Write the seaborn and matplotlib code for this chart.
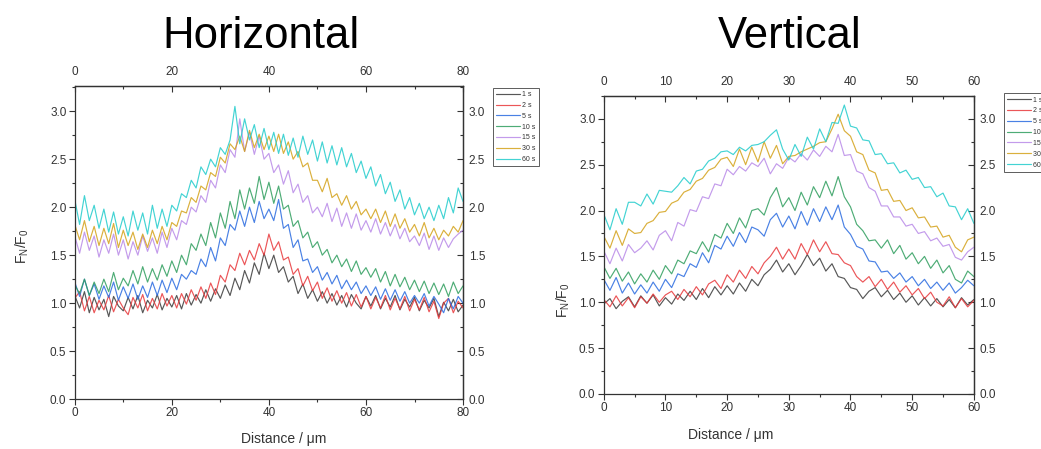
import numpy as np
import pandas as pd
import matplotlib
matplotlib.use("Agg")
import matplotlib.pyplot as plt
import seaborn as sns
from matplotlib.ticker import MultipleLocator

# ---------------- data ----------------
LABELS = ["1 s", "2 s", "5 s", "10 s", "15 s", "30 s", "60 s"]

H_X = list(range(0, 81))  # distance, um
H_1s = [1.08,0.95,1.12,0.90,1.06,0.93,1.04,0.86,1.07,0.97,
        0.92,1.06,0.94,1.08,0.90,1.03,0.95,1.09,0.93,1.05,
        0.96,1.08,0.94,1.10,0.98,1.09,1.00,1.14,1.02,1.15,
        1.05,1.19,1.08,1.26,1.14,1.34,1.21,1.42,1.30,1.52,
        1.36,1.50,1.32,1.38,1.22,1.28,1.10,1.20,1.05,1.14,
        1.02,1.12,1.00,1.10,0.98,1.08,0.96,1.09,1.00,0.94,
        1.07,0.97,1.08,0.94,1.05,0.96,1.08,0.93,1.04,0.96,
        1.06,0.92,1.03,0.95,1.05,0.86,1.01,0.92,1.04,0.91,
        0.98]
H_2s = [1.05,1.12,0.92,1.07,0.90,1.03,0.93,1.08,0.91,1.04,
        0.95,0.88,1.06,0.95,1.09,0.92,1.05,0.94,1.10,0.97,
        1.08,0.95,1.10,0.99,1.14,1.03,1.17,1.05,1.21,1.09,
        1.29,1.22,1.40,1.34,1.52,1.40,1.55,1.45,1.62,1.50,
        1.72,1.55,1.64,1.45,1.48,1.30,1.36,1.18,1.28,1.13,
        1.22,1.05,1.16,1.02,1.13,1.00,1.11,0.97,1.09,0.96,
        1.07,0.94,1.06,0.95,1.08,0.93,1.05,0.94,1.07,0.92,
        1.04,0.93,1.06,0.91,1.02,0.84,1.00,1.05,0.90,1.02,
        0.95]
H_5s = [1.22,1.07,1.25,1.08,1.20,1.04,1.18,1.06,1.22,1.03,
        1.17,1.05,1.20,1.04,1.18,1.06,1.22,1.08,1.24,1.11,
        1.26,1.14,1.30,1.25,1.34,1.30,1.46,1.38,1.58,1.44,
        1.68,1.60,1.82,1.76,1.96,1.80,2.00,1.84,2.06,1.88,
        1.98,1.86,2.08,1.78,1.82,1.58,1.66,1.44,1.46,1.32,
        1.38,1.24,1.32,1.20,1.29,1.15,1.24,1.14,1.22,1.10,
        1.18,1.08,1.17,1.04,1.15,1.03,1.14,1.02,1.12,1.00,
        1.08,1.00,1.10,0.97,1.07,0.99,0.90,1.05,0.94,1.07,
        1.00]
H_10s = [1.19,1.10,1.25,1.08,1.22,1.10,1.25,1.12,1.32,1.14,
         1.26,1.18,1.34,1.20,1.38,1.22,1.36,1.24,1.40,1.28,
         1.44,1.32,1.50,1.40,1.62,1.55,1.72,1.60,1.84,1.68,
         1.94,1.78,2.06,1.88,2.18,1.98,2.20,2.04,2.32,2.08,
         2.26,2.04,2.22,1.98,2.02,1.80,1.86,1.68,1.74,1.58,
         1.64,1.50,1.56,1.42,1.50,1.38,1.46,1.33,1.44,1.30,
         1.37,1.27,1.36,1.22,1.33,1.18,1.30,1.17,1.27,1.14,
         1.24,1.12,1.23,1.10,1.21,1.09,1.20,1.07,1.22,1.10,
         1.18]
H_15s = [1.70,1.52,1.74,1.55,1.70,1.48,1.66,1.52,1.72,1.50,
         1.66,1.46,1.64,1.50,1.70,1.54,1.68,1.52,1.74,1.58,
         1.78,1.66,1.86,1.82,2.00,1.95,2.12,2.05,2.28,2.20,
         2.44,2.36,2.60,2.52,2.92,2.58,2.78,2.55,2.74,2.50,
         2.56,2.36,2.44,2.24,2.38,2.15,2.24,2.05,2.12,1.94,
         2.00,1.90,2.04,1.85,1.99,1.80,1.94,1.78,1.93,1.76,
         1.86,1.74,1.88,1.72,1.84,1.70,1.82,1.67,1.78,1.64,
         1.70,1.60,1.73,1.56,1.70,1.55,1.68,1.58,1.67,1.72,
         1.76]
H_30s = [1.82,1.66,1.86,1.64,1.80,1.60,1.78,1.62,1.83,1.58,
         1.76,1.60,1.74,1.56,1.72,1.58,1.76,1.62,1.80,1.66,
         1.84,1.80,1.96,1.94,2.10,2.05,2.22,2.18,2.36,2.32,
         2.52,2.46,2.66,2.60,2.74,2.58,2.80,2.62,2.76,2.60,
         2.74,2.58,2.76,2.56,2.68,2.50,2.58,2.42,2.46,2.28,
         2.28,2.16,2.30,2.10,2.14,2.02,2.12,1.98,2.06,1.92,
         1.98,1.88,1.98,1.84,1.96,1.80,1.93,1.78,1.88,1.74,
         1.82,1.70,1.84,1.68,1.78,1.66,1.76,1.70,1.80,1.74,
         1.86]
H_60s = [2.08,1.82,2.12,1.86,2.02,1.78,1.98,1.74,1.95,1.72,
         1.90,1.70,1.96,1.76,1.94,1.72,2.02,1.78,1.98,1.80,
         2.02,1.96,2.14,2.10,2.28,2.20,2.42,2.34,2.50,2.42,
         2.62,2.55,2.70,3.05,2.66,2.92,2.70,2.86,2.62,2.82,
         2.60,2.78,2.56,2.76,2.54,2.72,2.52,2.74,2.55,2.70,
         2.48,2.68,2.46,2.64,2.44,2.62,2.42,2.56,2.36,2.48,
         2.30,2.42,2.22,2.34,2.14,2.26,2.06,2.18,1.98,2.10,
         1.92,2.04,1.88,2.00,1.86,2.02,1.88,2.10,1.94,2.20,
         2.06]

V_X = list(range(0, 61))  # distance, um
V_1s = [0.98,1.04,0.93,1.01,1.06,0.95,1.07,0.99,1.08,0.96,
        1.05,0.98,1.09,1.02,1.12,1.03,1.15,1.05,1.17,1.08,
        1.18,1.09,1.21,1.12,1.25,1.18,1.30,1.36,1.46,1.33,
        1.42,1.30,1.40,1.52,1.40,1.48,1.34,1.42,1.28,1.26,
        1.16,1.14,1.04,1.12,1.16,1.06,1.13,1.03,1.10,1.00,
        1.07,0.97,1.05,0.96,1.04,0.95,1.03,0.94,1.05,0.97,
        1.03]
V_2s = [1.03,0.95,1.07,0.96,1.05,0.94,1.06,0.99,1.09,1.00,
        1.08,1.12,1.03,1.14,1.06,1.17,1.08,1.20,1.24,1.15,
        1.30,1.22,1.35,1.26,1.39,1.31,1.43,1.50,1.60,1.47,
        1.58,1.47,1.64,1.52,1.68,1.55,1.66,1.53,1.52,1.43,
        1.40,1.28,1.22,1.28,1.17,1.25,1.14,1.22,1.11,1.18,
        1.08,1.15,1.04,1.11,1.00,0.96,1.06,0.94,1.04,0.95,
        1.02]
V_5s = [1.25,1.13,1.27,1.10,1.21,1.09,1.19,1.10,1.22,1.12,
        1.25,1.16,1.31,1.28,1.42,1.38,1.54,1.43,1.62,1.58,
        1.72,1.61,1.76,1.65,1.82,1.79,1.72,1.90,1.97,1.82,
        1.94,1.80,1.99,1.84,2.02,1.88,2.04,1.90,2.06,1.82,
        1.74,1.61,1.58,1.45,1.44,1.33,1.34,1.26,1.32,1.22,
        1.28,1.18,1.25,1.15,1.22,1.13,1.21,1.10,1.16,1.24,
        1.18]
V_10s = [1.39,1.26,1.37,1.23,1.33,1.20,1.31,1.22,1.35,1.25,
         1.40,1.31,1.46,1.42,1.56,1.53,1.66,1.55,1.74,1.70,
         1.86,1.75,1.92,1.81,2.00,2.02,1.95,2.14,2.25,2.04,
         2.14,2.00,2.20,2.06,2.26,2.14,2.32,2.16,2.37,2.15,
         2.04,1.85,1.78,1.67,1.68,1.59,1.68,1.53,1.62,1.47,
         1.54,1.42,1.50,1.37,1.46,1.32,1.40,1.25,1.21,1.34,
         1.28]
V_15s = [1.56,1.42,1.59,1.45,1.63,1.54,1.59,1.67,1.57,1.73,
         1.78,1.67,1.87,1.83,2.01,1.99,2.15,2.13,2.29,2.27,
         2.45,2.39,2.48,2.43,2.52,2.48,2.57,2.40,2.51,2.46,
         2.58,2.53,2.62,2.55,2.66,2.59,2.70,2.64,2.83,2.60,
         2.61,2.43,2.40,2.25,2.21,2.05,2.05,1.93,1.93,1.83,
         1.85,1.75,1.77,1.67,1.70,1.61,1.63,1.49,1.46,1.55,
         1.60]
V_30s = [1.72,1.59,1.78,1.62,1.80,1.75,1.76,1.86,1.89,1.98,
         1.99,2.08,2.11,2.20,2.23,2.32,2.35,2.44,2.47,2.56,
         2.58,2.48,2.67,2.50,2.69,2.53,2.75,2.57,2.71,2.51,
         2.59,2.60,2.64,2.67,2.70,2.74,2.75,2.89,3.05,2.87,
         2.81,2.64,2.61,2.44,2.41,2.22,2.23,2.10,2.11,2.00,
         2.03,1.92,1.93,1.82,1.83,1.71,1.73,1.60,1.55,1.68,
         1.71]
V_60s = [1.96,1.79,2.02,1.85,2.09,2.09,2.05,2.18,2.07,2.22,
         2.21,2.20,2.27,2.36,2.29,2.43,2.45,2.54,2.57,2.64,
         2.65,2.61,2.69,2.65,2.71,2.72,2.75,2.82,2.88,2.67,
         2.55,2.72,2.59,2.80,2.67,2.89,2.75,2.96,2.95,3.15,
         2.92,2.90,2.77,2.76,2.61,2.62,2.51,2.52,2.41,2.44,
         2.34,2.36,2.25,2.26,2.15,2.19,2.05,2.04,1.90,2.02,
         1.86]

COLORS = ["#3a3a3a", "#e8383b", "#2a6be0", "#2f9e5e", "#b98ae8", "#d4a21a", "#22cccc"]

# ---------------- style ----------------
sns.set_style("ticks")
plt.rcParams["font.family"] = ["Liberation Sans", "DejaVu Sans"]
plt.rcParams["mathtext.default"] = "regular"
INK = "#333333"

fig = plt.figure(figsize=(10.41, 4.49), dpi=100)
axH = fig.add_axes([0.0718, 0.111, 0.373, 0.697])
axV = fig.add_axes([0.580, 0.1225, 0.3555, 0.664])


def fmt1(v, p):
    return f"{v:.1f}"


def draw(ax, x, series, xmax, xmajor, ymax, leg_anchor, ylab_pos, xlab_pos):
    df = pd.DataFrame({
        "x": np.tile(x, len(series)),
        "y": np.concatenate([np.asarray(s, float) for s in series]),
        "t": np.repeat(LABELS, len(x)),
    })
    sns.lineplot(data=df, x="x", y="y", hue="t", hue_order=LABELS,
                 palette=COLORS, lw=0.85, alpha=0.85, ax=ax, legend=False,
                 estimator=None, errorbar=None)
    ax.set_xlim(0, xmax)
    ax.set_ylim(0, ymax)
    ax.xaxis.set_major_locator(MultipleLocator(xmajor))
    ax.xaxis.set_minor_locator(MultipleLocator(xmajor / 2))
    ax.yaxis.set_major_locator(MultipleLocator(0.5))
    ax.yaxis.set_minor_locator(MultipleLocator(0.25))
    ax.yaxis.set_major_formatter(plt.FuncFormatter(fmt1))
    ax.tick_params(axis="both", which="both", direction="out", colors=INK,
                   labelsize=8.5, width=0.8, pad=2)
    ax.tick_params(which="major", length=4)
    ax.tick_params(which="minor", length=2.2)
    for sp in ax.spines.values():
        sp.set_visible(True)
        sp.set_color(INK)
        sp.set_linewidth(0.9)

    secx = ax.secondary_xaxis("top")
    secx.xaxis.set_major_locator(MultipleLocator(xmajor))
    secx.xaxis.set_minor_locator(MultipleLocator(xmajor / 2))
    secx.tick_params(which="both", direction="in", colors=INK, labelsize=8.5, width=0.8, pad=6)
    secx.tick_params(which="major", length=4)
    secx.tick_params(which="minor", length=2.2)
    secy = ax.secondary_yaxis("right")
    secy.yaxis.set_major_locator(MultipleLocator(0.5))
    secy.yaxis.set_minor_locator(MultipleLocator(0.25))
    secy.yaxis.set_major_formatter(plt.FuncFormatter(fmt1))
    secy.tick_params(which="both", direction="in", colors=INK, labelsize=8.5, width=0.8, pad=4)
    secy.tick_params(which="major", length=4)
    secy.tick_params(which="minor", length=2.2)
    for s in (secx, secy):
        for sp in s.spines.values():
            sp.set_color(INK)
            sp.set_linewidth(0.9)

    ax.set_xlabel("Distance / \u03bcm", fontsize=10, color=INK)
    ax.set_ylabel("F$_N$/F$_0$", fontsize=10, color=INK)
    ax.xaxis.set_label_coords(*xlab_pos)
    ax.yaxis.set_label_coords(*ylab_pos)

    leg = ax.legend(handles=list(ax.lines), labels=LABELS, loc="upper left",
                    bbox_to_anchor=leg_anchor, fontsize=5, frameon=True,
                    fancybox=False, edgecolor=INK, handlelength=3.4,
                    labelspacing=0.55, borderpad=0.45, handletextpad=0.3,
                    borderaxespad=0)
    leg.get_frame().set_linewidth(0.7)
    for t in leg.get_texts():
        t.set_color(INK)


draw(axH, H_X, [H_1s, H_2s, H_5s, H_10s, H_15s, H_30s, H_60s],
     80, 20, 3.26, (1.078, 0.994), (-0.112, 0.49), (0.537, -0.105))
draw(axV, V_X, [V_1s, V_2s, V_5s, V_10s, V_15s, V_30s, V_60s],
     60, 10, 3.25, (1.081, 1.008), (-0.085, 0.315), (0.343, -0.115))

fig.text(0.251, 0.918, "Horizontal", ha="center", va="center", fontsize=31.5, color="black")
fig.text(0.759, 0.918, "Vertical", ha="center", va="center", fontsize=31.5, color="black")

fig.savefig("out.png", dpi=100)
